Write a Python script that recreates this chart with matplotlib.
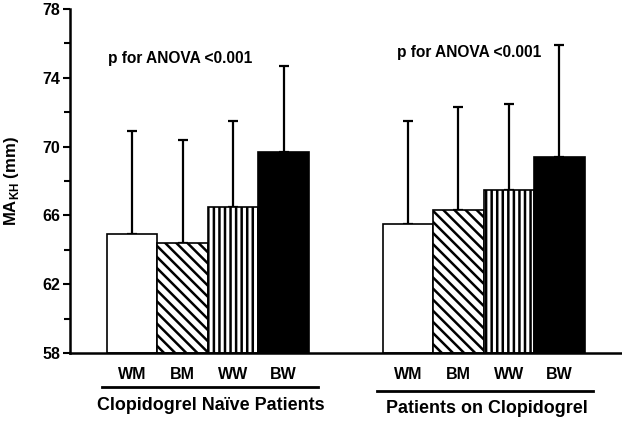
import numpy as np
import matplotlib
matplotlib.use("Agg")
import matplotlib.pyplot as plt

plt.rcParams['font.family'] = ['Liberation Sans', 'DejaVu Sans']
plt.rcParams['font.weight'] = 'bold'
plt.rcParams['mathtext.fontset'] = 'custom'
plt.rcParams['mathtext.rm'] = 'Liberation Sans:bold'
plt.rcParams['hatch.linewidth'] = 1.8

categories = ["WM", "BM", "WW", "BW"]
groups = ["Clopidogrel Naïve Patients", "Patients on Clopidogrel"]
naive_mean = [64.9, 64.4, 66.5, 69.7]
naive_upper = [70.9, 70.4, 71.5, 74.7]
on_mean = [65.5, 66.3, 67.5, 69.4]
on_upper = [71.5, 72.3, 72.5, 75.9]
p_text = "p for ANOVA <0.001"

faces = ['white', 'white', 'white', 'black']
hatches = ['', '\\\\\\', '|||', '']

fig = plt.figure(figsize=(6.22, 4.22), dpi=100)
ax = fig.add_axes([0.1125, 0.1635, 0.8875, 0.815])

offsets = [0.0, 5.46]
for off, mean, upper in zip(offsets, [naive_mean, on_mean], [naive_upper, on_upper]):
    x = off + np.arange(len(categories))
    mean = np.array(mean)
    err = np.array(upper) - mean
    ax.bar(x, mean - 58, bottom=58, width=1.0, color=faces, hatch=hatches,
           edgecolor='black', linewidth=1.2, zorder=2)
    ax.errorbar(x, mean, yerr=[np.zeros_like(err), err], fmt='none',
                ecolor='black', elinewidth=1.6, capsize=3.5, capthick=1.6, zorder=1)

ax.set_ylim(58, 78)
ax.set_xlim(-1.23, 9.7)
ax.set_yticks(np.arange(58, 79, 4))
ax.set_yticks(np.arange(60, 78, 4), minor=True)
ax.tick_params(axis='y', which='major', length=5, width=1.5, labelsize=11.5, pad=2)
ax.tick_params(axis='y', which='minor', length=4, width=1.5)

xt = np.concatenate([offsets[0] + np.arange(4), offsets[1] + np.arange(4)])
ax.set_xticks(xt)
ax.set_xticklabels(categories * 2, fontsize=11.5, fontweight='bold')
ax.tick_params(axis='x', length=0, pad=10)

ax.spines['top'].set_visible(False)
ax.spines['right'].set_visible(False)
ax.spines['left'].set_linewidth(1.8)
ax.spines['bottom'].set_linewidth(1.8)

ax.set_ylabel(r'MA$_\mathrm{KH}$ (mm)', fontsize=12, fontweight='bold', va='center')
ax.yaxis.set_label_coords(-0.106, 0.5)

ax.text(-0.48, 75.15, p_text, fontsize=11.2, fontweight='bold', va='center', ha='left')
ax.text(5.25, 75.45, p_text, fontsize=11.2, fontweight='bold', va='center', ha='left')

tr = ax.get_xaxis_transform()
ax.plot([-0.6, 3.68], [-0.099, -0.099], color='black', lw=2, transform=tr, clip_on=False)
ax.plot([4.85, 9.13], [-0.110, -0.110], color='black', lw=2, transform=tr, clip_on=False)
ax.text(1.55, -0.152, groups[0], fontsize=12.9, fontweight='bold', ha='center', va='center', transform=tr)
ax.text(7.03, -0.160, groups[1], fontsize=12.9, fontweight='bold', ha='center', va='center', transform=tr)

fig.savefig("out.png", dpi=100)
